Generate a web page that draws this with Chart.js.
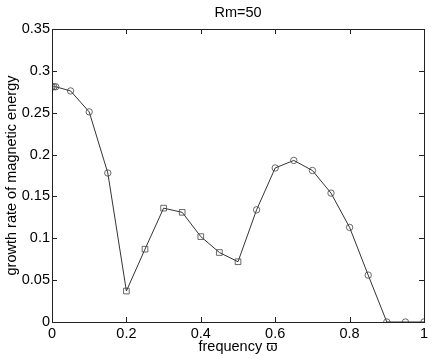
<!DOCTYPE html>
<html>
<head>
<meta charset="utf-8">
<script src="https://cdn.jsdelivr.net/npm/chart.js@4"></script>
<style>
  html, body { margin: 0; padding: 0; background: #fff; }
  #wrap { width: 432px; height: 359px; }
</style>
</head>
<body>
<div id="wrap"><canvas id="myChart" width="432" height="359"></canvas></div>
<script>
const ctx = document.getElementById('myChart');

const frequency = [0, 0.005, 0.01, 0.05, 0.1, 0.15, 0.2, 0.25, 0.3, 0.35, 0.4, 0.45, 0.5,
  0.55, 0.6, 0.65, 0.7, 0.75, 0.8, 0.85, 0.9, 0.95, 1.0];
const growthRate = [0.281, 0.281, 0.281, 0.276, 0.251, 0.178, 0.037, 0.087, 0.136, 0.131, 0.102, 0.083, 0.072,
  0.134, 0.184, 0.193, 0.181, 0.154, 0.113, 0.056, 0, 0, 0];
const xTicks = [0, 0.2, 0.4, 0.6, 0.8, 1];
const yTicks = [0, 0.05, 0.1, 0.15, 0.2, 0.25, 0.3, 0.35];

const family = '"Liberation Sans", Arial, Helvetica, sans-serif';
const font = { family: family, size: 14.5, weight: 'normal' };
const ink = '#222';

// squares between 0.2 and 0.5, circles elsewhere
const isSquare = f => f >= 0.2 && f <= 0.5;

// box around the plot plus matlab-style inward ticks on all four sides
const frameTicks = {
  id: 'frameTicks',
  afterDraw(chart) {
    const { ctx, chartArea: a, scales } = chart;
    const len = 5;
    ctx.save();
    ctx.strokeStyle = ink;
    ctx.lineWidth = 1;
    ctx.strokeRect(a.left + 0.5, a.top + 0.5, a.right - a.left, a.bottom - a.top);
    ctx.beginPath();
    xTicks.forEach(v => {
      const x = Math.round(scales.x.getPixelForValue(v)) + 0.5;
      ctx.moveTo(x, a.bottom); ctx.lineTo(x, a.bottom - len);
      ctx.moveTo(x, a.top); ctx.lineTo(x, a.top + len);
    });
    yTicks.forEach(v => {
      const y = Math.round(scales.y.getPixelForValue(v)) + 0.5;
      ctx.moveTo(a.left, y); ctx.lineTo(a.left + len, y);
      ctx.moveTo(a.right, y); ctx.lineTo(a.right - len, y);
    });
    ctx.stroke();
    ctx.restore();
  }
};

const data = {
  datasets: [{
    data: frequency.map((f, i) => ({ x: f, y: growthRate[i] })),
    borderColor: '#333',
    borderWidth: 1,
    pointBorderColor: '#444',
    pointBorderWidth: 0.8,
    pointBackgroundColor: 'rgba(0,0,0,0)',
    pointRadius: frequency.map(f => (isSquare(f) ? 4 : 3.2)),
    pointStyle: frequency.map(f => (isSquare(f) ? 'rect' : 'circle')),
    tension: 0,
  }],
};

const config = {
  type: 'line',
  data: data,
  options: {
    responsive: false,
    animation: false,
    layout: { padding: { left: 0, right: 8, top: 0, bottom: 0 } },
    scales: {
      x: {
        type: 'linear',
        min: 0,
        max: 1,
        afterBuildTicks: s => { s.ticks = xTicks.map(v => ({ value: v })); },
        afterFit: s => { s.height = 37; },
        grid: { display: false, drawTicks: false },
        border: { display: false },
        ticks: { color: '#000', font: font, padding: 3, maxRotation: 0,
          callback: v => String(v) },
        title: { display: true, text: 'frequency ϖ', color: '#000', font: font,
          padding: { top: 0, bottom: 3.3 } },
      },
      y: {
        min: 0,
        max: 0.35,
        afterBuildTicks: s => { s.ticks = yTicks.map(v => ({ value: v })); },
        afterFit: s => { s.width = 52; },
        grid: { display: false, drawTicks: false },
        border: { display: false },
        ticks: { color: '#000', font: font, padding: 2,
          callback: v => String(v) },
        title: { display: true, text: 'growth rate of magnetic energy', color: '#000',
          font: font, padding: { top: 3, bottom: 0 } },
      },
    },
    plugins: {
      legend: { display: false },
      tooltip: { enabled: false },
      title: {
        display: true,
        fullSize: false,
        text: 'Rm=50',
        color: '#000',
        font: font,
        padding: { top: 4, bottom: 7.6 },
      },
    },
  },
  plugins: [frameTicks],
};

new Chart(ctx, config);
</script>
</body>
</html>
